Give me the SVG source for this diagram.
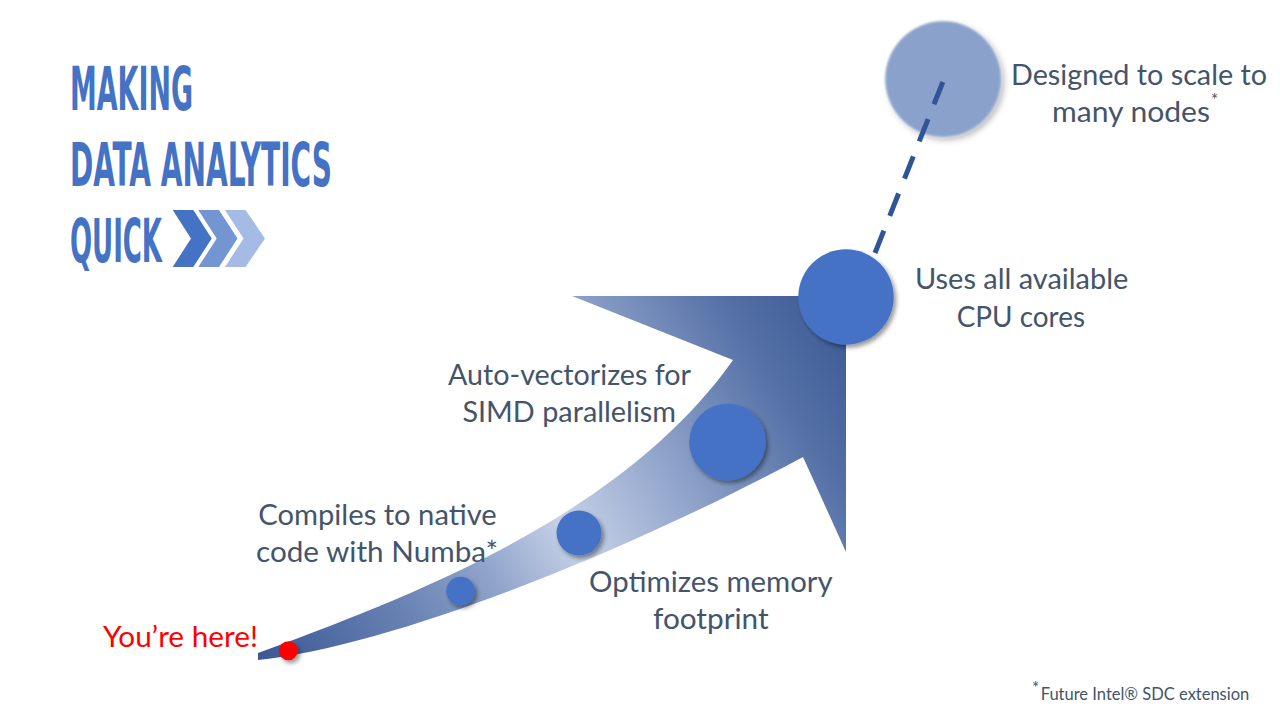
<svg xmlns="http://www.w3.org/2000/svg" width="1280" height="720" viewBox="0 0 1280 720">
  <defs>
    <linearGradient id="arrowFill" gradientUnits="userSpaceOnUse" x1="258" y1="657" x2="846" y2="300">
      <stop offset="0" stop-color="#3a5895"/>
      <stop offset="0.22" stop-color="#6a83b4"/>
      <stop offset="0.35" stop-color="#90a4cb"/>
      <stop offset="0.48" stop-color="#c6d1e7"/>
      <stop offset="0.66" stop-color="#8ea2c9"/>
      <stop offset="0.85" stop-color="#5470a6"/>
      <stop offset="1" stop-color="#3a5894"/>
    </linearGradient>
    <filter id="shadow" x="-30%" y="-30%" width="170%" height="170%">
      <feDropShadow dx="2.5" dy="3" stdDeviation="2.2" flood-color="#000" flood-opacity="0.4"/>
    </filter>
    <filter id="softShadow" x="-30%" y="-30%" width="170%" height="170%">
      <feGaussianBlur in="SourceGraphic" stdDeviation="1.2" result="soft"/>
      <feDropShadow in="soft" dx="3" dy="3" stdDeviation="3" flood-color="#000" flood-opacity="0.3"/>
    </filter>
  </defs>
  <style>
    .title { font-family: "DejaVu Sans Condensed", "DejaVu Sans", sans-serif; font-weight: bold; font-size: 60px; fill: #4472c4; }
    .label { font-family: Lato, "Liberation Sans", sans-serif; font-size: 29px; fill: #44546a; }
    .here { font-family: Lato, "Liberation Sans", sans-serif; font-size: 29px; fill: #ff0000; }
    .note { font-family: Lato, "Liberation Sans", sans-serif; font-size: 17px; fill: #44546a; }
    .node { fill: #4472c4; filter: url(#shadow); }
    .dash { fill: none; stroke: #2f5597; stroke-width: 5; stroke-dasharray: 24 16; }
  </style>

  <rect width="1280" height="720" fill="#ffffff"/>

  <!-- heading -->
  <g id="heading">
    <text class="title" x="70" y="110" textLength="123" lengthAdjust="spacingAndGlyphs">MAKING</text>
    <text class="title" x="70" y="186" textLength="262" lengthAdjust="spacingAndGlyphs">DATA ANALYTICS</text>
    <text class="title" x="70" y="262" textLength="92" lengthAdjust="spacingAndGlyphs">QUICK</text>
    <polygon points="172.7,210 193.3,210 211.7,238.5 193.3,267 172.7,267 191,238.5" fill="#4472c4"/>
    <polygon points="198.3,210 219,210 237.5,238.5 219,267 198.3,267 216.7,238.5" fill="#7396d3"/>
    <polygon points="225,210 245.5,210 265,238.5 245.5,267 225,267 243.5,238.5" fill="#a5bbe3"/>
  </g>

  <!-- growth arrow -->
  <g id="arrow">
    <path d="M258,653 C400,600 620,520 733,360 L572,296 L846,296 L846,552 L803,457 C640,545 400,645 258,660 Z" fill="url(#arrowFill)"/>
  </g>

  <!-- milestones -->
  <g id="node-start">
    <circle cx="288.3" cy="650.7" r="9.5" fill="#ff0000" filter="url(#shadow)"/>
    <text class="here" x="103" y="647" textLength="155" lengthAdjust="spacingAndGlyphs">You’re here!</text>
  </g>
  <g id="node-compile">
    <circle class="node" cx="460.5" cy="591" r="14.3"/>
    <text class="label" x="258.3" y="525" textLength="238.4" lengthAdjust="spacingAndGlyphs">Compiles to native</text>
    <text class="label" x="256" y="562" textLength="242" lengthAdjust="spacingAndGlyphs">code with Numba*</text>
  </g>
  <g id="node-memory">
    <circle class="node" cx="579" cy="533" r="22.5"/>
    <text class="label" x="589" y="592" textLength="243.6" lengthAdjust="spacingAndGlyphs">Optimizes memory</text>
    <text class="label" x="653" y="628.5" textLength="115.6" lengthAdjust="spacingAndGlyphs">footprint</text>
  </g>
  <g id="node-simd">
    <circle class="node" cx="727.5" cy="442" r="38.3"/>
    <text class="label" x="448" y="384.5" textLength="243" lengthAdjust="spacingAndGlyphs">Auto-vectorizes for</text>
    <text class="label" x="462.4" y="421.5" textLength="213.6" lengthAdjust="spacingAndGlyphs">SIMD parallelism</text>
  </g>
  <g id="node-cores">
    <circle class="node" cx="846" cy="297" r="47.7"/>
    <text class="label" x="915" y="289.3" textLength="213.3" lengthAdjust="spacingAndGlyphs">Uses all available</text>
    <text class="label" x="956.7" y="326.5" textLength="128.3" lengthAdjust="spacingAndGlyphs">CPU cores</text>
  </g>
  <g id="node-scale">
    <circle cx="943" cy="79" r="57.7" fill="#8aa2cb" filter="url(#softShadow)"/>
    <text class="label" x="1011" y="85" textLength="256" lengthAdjust="spacingAndGlyphs">Designed to scale to</text>
    <text class="label" x="1052" y="121.5" textLength="158" lengthAdjust="spacingAndGlyphs">many nodes</text>
    <text class="note" x="1211" y="106" font-size="15">*</text>
  </g>

  <!-- connectors: dashed link runs over the faded circle -->
  <g id="connectors">
    <line class="dash" x1="875" y1="253" x2="944" y2="79"/>
  </g>

  <!-- footnote -->
  <g id="footnote">
    <text class="note" x="1032" y="694" font-size="11">*</text>
    <text class="note" x="1040.7" y="700" textLength="208.6" lengthAdjust="spacingAndGlyphs">Future Intel® SDC extension</text>
  </g>
</svg>
